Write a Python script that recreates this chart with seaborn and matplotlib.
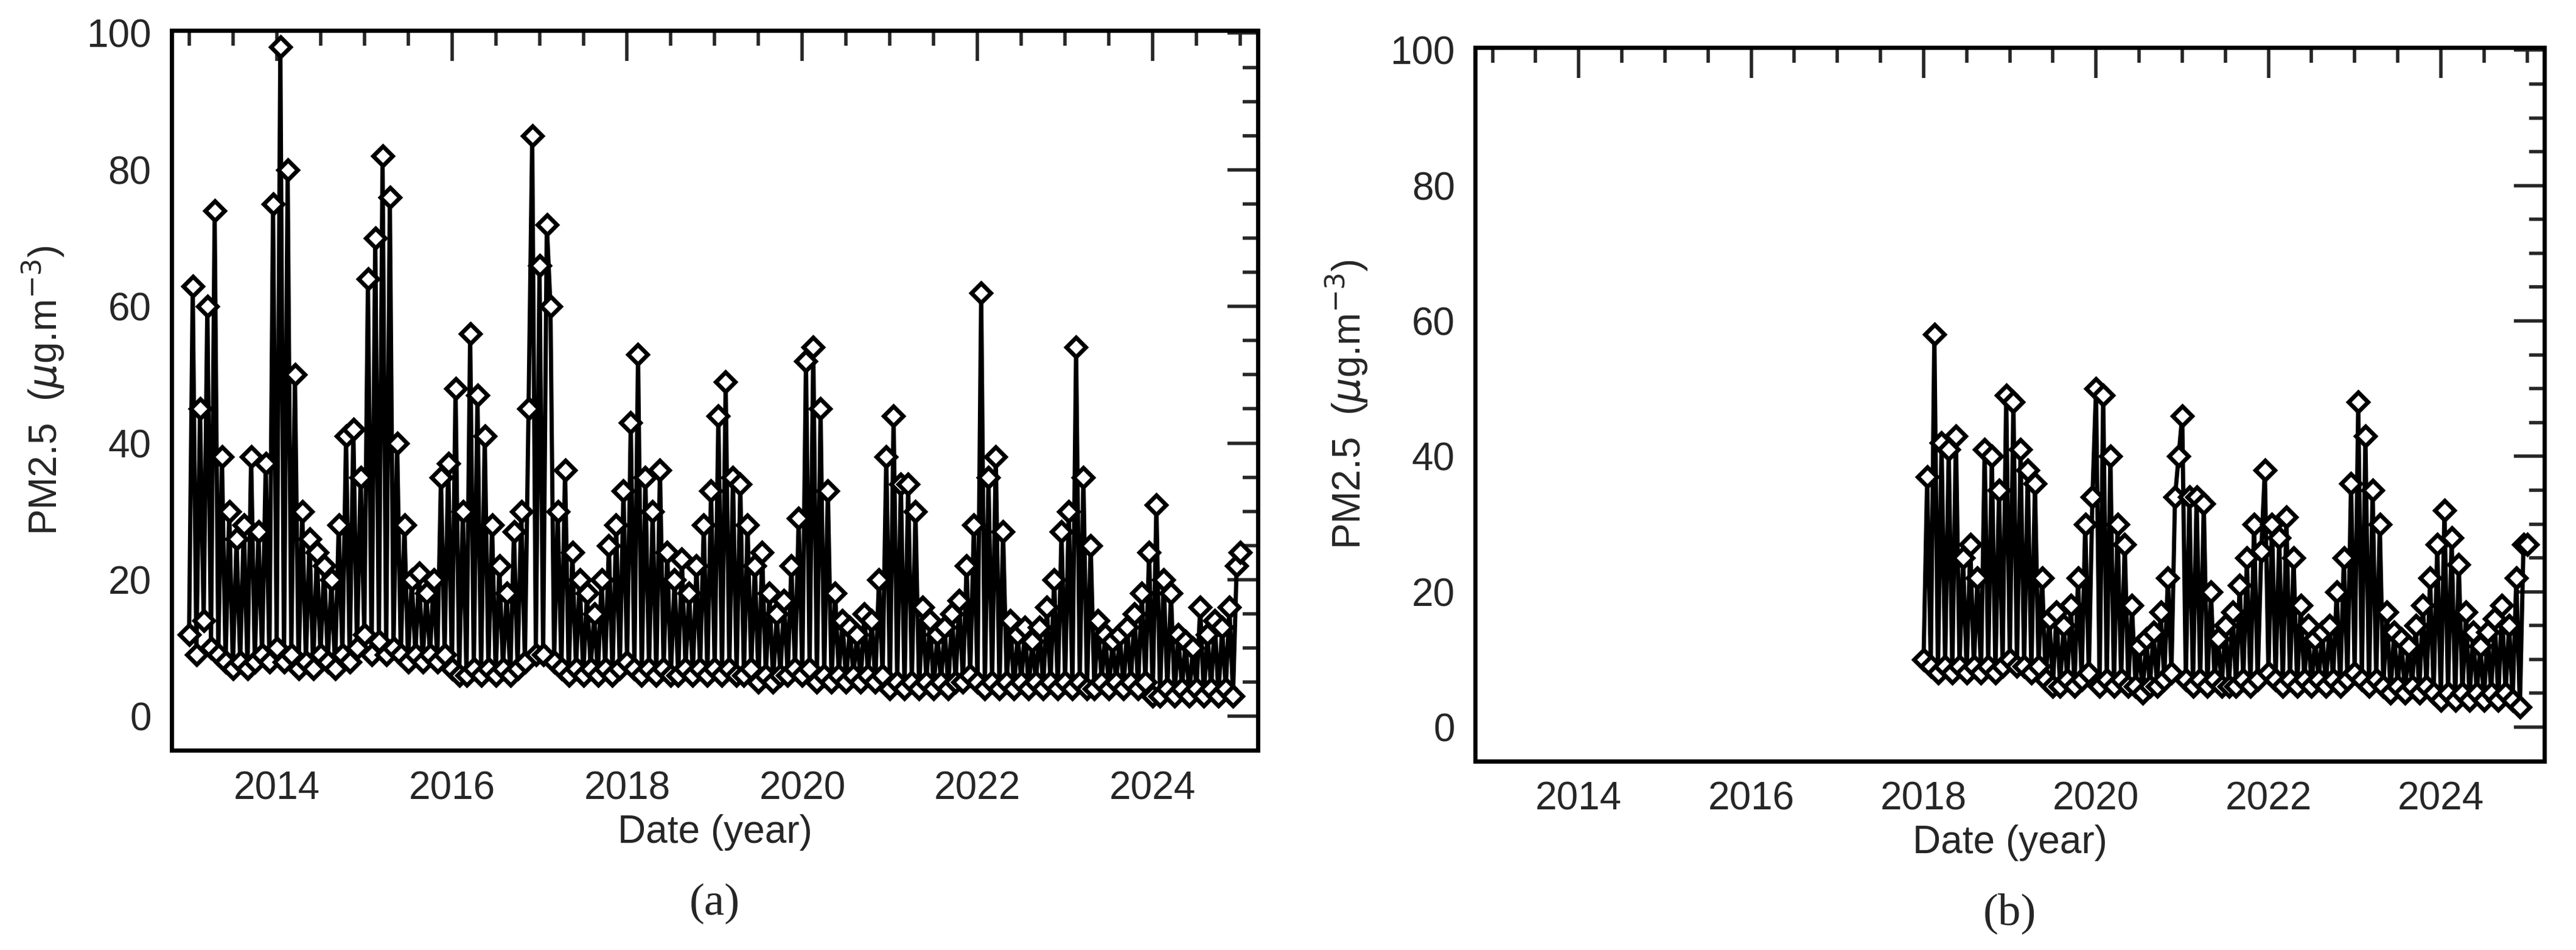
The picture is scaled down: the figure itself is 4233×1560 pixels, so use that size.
import numpy as np
import pandas as pd
import matplotlib
matplotlib.use("Agg")
import matplotlib.pyplot as plt
import seaborn as sns
from matplotlib.ticker import MultipleLocator

# PM2.5 readings (~2 per month), station a: 2013-2024, station b: 2018-2024
pm_a_2013 = [12, 63, 9, 45, 14, 60, 10, 74, 9, 38, 8, 30, 7, 26, 8, 28, 7, 38, 8, 27, 9, 37, 8, 75]
pm_a_2014 = [10, 98, 8, 80, 9, 50, 7, 30, 8, 26, 7, 24, 9, 22, 8, 20, 7, 28, 9, 41, 8, 42, 10, 35]
pm_a_2015 = [12, 64, 9, 70, 11, 82, 9, 76, 10, 40, 9, 28, 8, 20, 9, 21, 8, 18, 9, 20, 8, 35, 9, 37]
pm_a_2016 = [7, 48, 6, 30, 6, 56, 7, 47, 6, 41, 7, 28, 6, 22, 7, 18, 6, 27, 7, 30, 8, 45, 85, 9]
pm_a_2017 = [66, 9, 72, 60, 8, 30, 7, 36, 6, 24, 7, 20, 6, 18, 7, 15, 6, 20, 7, 25, 6, 28, 7, 33]
pm_a_2018 = [8, 43, 7, 53, 6, 35, 7, 30, 6, 36, 7, 24, 6, 20, 6, 23, 7, 18, 6, 22, 7, 28, 6, 33]
pm_a_2019 = [7, 44, 6, 49, 7, 35, 6, 34, 6, 28, 7, 22, 5, 24, 6, 18, 5, 15, 6, 17, 6, 22, 7, 29]
pm_a_2020 = [6, 52, 7, 54, 5, 45, 6, 33, 5, 18, 6, 14, 5, 13, 6, 12, 5, 15, 6, 14, 5, 20, 6, 38]
pm_a_2021 = [4, 44, 5, 34, 4, 34, 5, 30, 4, 16, 5, 14, 4, 12, 5, 13, 4, 15, 5, 17, 5, 22, 6, 28]
pm_a_2022 = [5, 62, 4, 35, 5, 38, 4, 27, 5, 14, 4, 12, 5, 13, 4, 11, 5, 13, 4, 16, 5, 20, 4, 27]
pm_a_2023 = [5, 30, 4, 54, 5, 35, 4, 25, 4, 14, 5, 12, 4, 11, 5, 12, 4, 13, 5, 15, 4, 18, 5, 24]
pm_a_2024 = [3, 31, 3, 20, 4, 18, 3, 12, 4, 11, 3, 10, 4, 16, 3, 12, 4, 14, 3, 13, 4, 16, 3, 22, 24]

pm_b_2018 = [10, 37, 9, 58, 8, 42, 9, 41, 8, 43, 9, 25, 8, 27, 9, 22, 8, 41, 9, 40, 8, 35, 9, 49]
pm_b_2019 = [10, 48, 9, 41, 9, 38, 8, 36, 9, 22, 7, 16, 6, 17, 6, 15, 7, 18, 6, 22, 7, 30, 8, 34]
pm_b_2020 = [50, 6, 49, 7, 40, 6, 30, 7, 27, 6, 18, 6, 12, 5, 13, 6, 14, 6, 17, 7, 22, 8, 34, 40]
pm_b_2021 = [46, 7, 34, 6, 34, 7, 33, 6, 20, 7, 13, 6, 15, 6, 17, 6, 21, 7, 25, 6, 30, 7, 26, 38]
pm_b_2022 = [8, 30, 7, 28, 6, 31, 7, 25, 6, 18, 7, 15, 6, 13, 7, 14, 6, 15, 7, 20, 6, 25, 7, 36]
pm_b_2023 = [8, 48, 7, 43, 6, 35, 7, 30, 6, 17, 5, 14, 6, 13, 5, 12, 6, 15, 5, 18, 6, 22, 5, 27]
pm_b_2024 = [4, 32, 5, 28, 4, 24, 5, 17, 4, 14, 5, 12, 4, 14, 5, 16, 4, 18, 5, 15, 4, 22, 3, 27, 27]

pm_a = (pm_a_2013 + pm_a_2014 + pm_a_2015 + pm_a_2016 + pm_a_2017 + pm_a_2018
        + pm_a_2019 + pm_a_2020 + pm_a_2021 + pm_a_2022 + pm_a_2023 + pm_a_2024)
pm_b = pm_b_2018 + pm_b_2019 + pm_b_2020 + pm_b_2021 + pm_b_2022 + pm_b_2023 + pm_b_2024

# half-month sampling dates in decimal years
date_a = 2013.0 + np.arange(len(pm_a)) / 24.0
date_b = 2018.0 + np.arange(len(pm_b)) / 24.0

sns.set_style("white")
plt.rcParams['font.family'] = ['Liberation Sans', 'DejaVu Sans']
plt.rcParams['mathtext.fontset'] = 'dejavusans'

fig = plt.figure(figsize=(42.33, 15.6), dpi=100)
ax_a = fig.add_axes([0.0666, 0.210, 0.4217, 0.758])
ax_b = fig.add_axes([0.5727, 0.199, 0.4150, 0.751])


def style_panel(ax, df, tag):
    sns.lineplot(data=df, x="date", y="pm", ax=ax, color="black", linewidth=5,
                 marker="D", markersize=16, markerfacecolor="white",
                 markeredgecolor="black", markeredgewidth=5, estimator=None, sort=False)
    ax.set_xlim(2012.8, 2025.2)
    ax.set_ylim(-5, 100.4)
    ax.xaxis.set_major_locator(MultipleLocator(2))
    ax.xaxis.set_minor_locator(MultipleLocator(0.5))
    ax.yaxis.set_major_locator(MultipleLocator(20))
    ax.yaxis.set_minor_locator(MultipleLocator(5))
    ax.set_xticks([2014, 2016, 2018, 2020, 2022, 2024])
    ax.tick_params(which="both", direction="in", top=True, right=True, width=4,
                   labelsize=46, pad=24)
    ax.tick_params(which="major", length=36)
    ax.tick_params(which="minor", length=18)
    for s in ax.spines.values():
        s.set_linewidth(5)
        s.set_color("black")
    ax.set_xlabel("Date (year)", fontsize=46, labelpad=8)
    ax.set_ylabel(r"PM2.5  ($\mu$g.m$^{-3}$)", fontsize=46, labelpad=24)
    ax.text(0.5, -0.185, tag, transform=ax.transAxes, ha="center", va="top",
            fontsize=54, family="Liberation Serif")


style_panel(ax_a, pd.DataFrame({"date": date_a, "pm": pm_a}), "(a)")
style_panel(ax_b, pd.DataFrame({"date": date_b, "pm": pm_b}), "(b)")

fig.savefig("out.png", dpi=100)
